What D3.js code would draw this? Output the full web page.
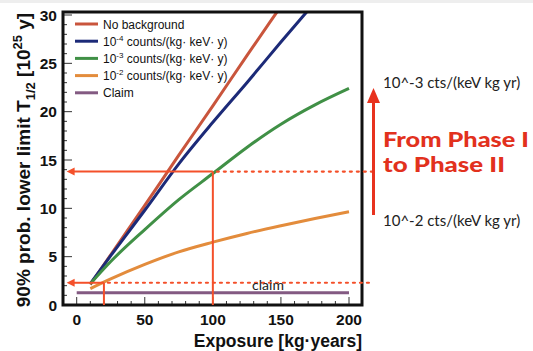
<!DOCTYPE html>
<html>
<head>
<meta charset="utf-8">
<script src="https://cdn.jsdelivr.net/npm/d3@7"></script>
<style>
  body { margin: 0; background: #fff; }
  svg { display: block; }
</style>
</head>
<body>
<div id="chart"></div>
<script>
// values (exposure in kg·years, T1/2 limit in 1e25 y)
const exposure = [10, 25, 50, 75, 100, 125, 150, 175, 200]
const noBackground = [2.1, 5.2, 10.3, 15.5, 20.6, 25.8, 30.9, 36.0, 41.2]
const bkg1e4 = [2.2, 5.1, 9.8, 14.6, 18.9, 23.0, 27.2, 31.3, 35.4]
const bkg1e3 = [2.2, 4.5, 7.8, 10.9, 13.6, 16.3, 18.7, 20.7, 22.4]
const bkg1e2 = [1.7, 2.7, 4.2, 5.5, 6.5, 7.4, 8.2, 8.95, 9.65]
const claimExposure = [0, 200]
const claimValue = 1.27
const xTicks = [0, 50, 100, 150, 200]
const yTicks = [0, 5, 10, 15, 20, 25, 30]
// phase markers: level reached and exposure needed
const phaseLevel = [13.8, 2.3]
const phaseExposure = [100, 20]

const width = 533, height = 351
const frame = {left: 63, right: 362, top: 12, bottom: 305}

const svg = d3.select("#chart").append("svg")
    .attr("width", width).attr("height", height)

svg.append("rect").attr("width", width).attr("height", 3).attr("fill", "#eeeeee")

const x = d3.scaleLinear().domain([0, 200]).range([76.7, 349])
const y = d3.scaleLinear().domain([0, 30]).range([305, 15])

svg.append("clipPath").attr("id", "plotclip")
  .append("rect")
    .attr("x", frame.left).attr("y", frame.top)
    .attr("width", frame.right - frame.left).attr("height", frame.bottom - frame.top)

// minor + major ticks, drawn inwards
const tickG = svg.append("g").attr("stroke", "#333").attr("stroke-width", 1)
d3.range(0, 31, 1).forEach(v => {
    const len = v % 5 === 0 ? 9 : 4
    tickG.append("line")
        .attr("x1", frame.left).attr("x2", frame.left + len)
        .attr("y1", y(v)).attr("y2", y(v))
})
d3.range(-10, 211, 10).forEach(v => {
    if (x(v) <= frame.left + 1 || x(v) >= frame.right - 1) return
    const len = v % 50 === 0 ? 8 : 4
    tickG.append("line")
        .attr("x1", x(v)).attr("x2", x(v))
        .attr("y1", frame.bottom).attr("y2", frame.bottom - len)
})

svg.append("g").selectAll("text")
    .data(yTicks).enter().append("text")
    .attr("x", 57).attr("y", d => y(d)).attr("dy", "0.36em")
    .attr("text-anchor", "end")
    .style("font", "bold 15.5px 'Liberation Sans', Arial, sans-serif")
    .attr("fill", "#111")
    .text(d => d)

svg.append("g").selectAll("text")
    .data(xTicks).enter().append("text")
    .attr("x", d => x(d)).attr("y", 325)
    .attr("text-anchor", "middle")
    .style("font", "bold 15.5px 'Liberation Sans', Arial, sans-serif")
    .attr("fill", "#111")
    .text(d => d)

// axis titles
svg.append("text")
    .attr("x", 362).attr("y", 347)
    .attr("text-anchor", "end")
    .style("font", "bold 17.5px 'Liberation Sans', Arial, sans-serif")
    .attr("fill", "#111")
    .text("Exposure [kg·years]")

const yTitle = svg.append("text")
    .attr("transform", "translate(30,160) rotate(-90)")
    .attr("text-anchor", "middle")
    .style("font", "bold 19px 'Liberation Sans', Arial, sans-serif")
    .attr("fill", "#111")
yTitle.append("tspan").text("90% prob. lower limit T")
yTitle.append("tspan").attr("dy", 5).style("font-size", "13px").text("1/2")
yTitle.append("tspan").attr("dy", -5).text(" [10")
yTitle.append("tspan").attr("dy", -8).style("font-size", "13px").text("25")
yTitle.append("tspan").attr("dy", 8).text(" y]")

// curves
const series = [
    {name: "No background", values: noBackground, color: "#c9553c"},
    {name: "-4", values: bkg1e4, color: "#1c2a78"},
    {name: "-3", values: bkg1e3, color: "#409046"},
    {name: "-2", values: bkg1e2, color: "#e38c3c"}
]

const line = d3.line()
    .x(d => x(d[0]))
    .y(d => y(d[1]))
    .curve(d3.curveMonotoneX)

const plot = svg.append("g").attr("clip-path", "url(#plotclip)")

plot.append("path")
    .datum(claimExposure.map(e => [e, claimValue]))
    .attr("fill", "none").attr("stroke", "#835a82").attr("stroke-width", 3)
    .attr("d", line)

series.forEach(s => {
    plot.append("path")
        .datum(exposure.map((e, i) => [e, s.values[i]]))
        .attr("fill", "none")
        .attr("stroke", s.color)
        .attr("stroke-width", 3)
        .attr("d", line)
})

// legend
const legendItems = [
    {label: ["No background"], color: "#c9553c"},
    {label: ["10", "-4", " counts/(kg· keV· y)"], color: "#1c2a78"},
    {label: ["10", "-3", " counts/(kg· keV· y)"], color: "#409046"},
    {label: ["10", "-2", " counts/(kg· keV· y)"], color: "#e38c3c"},
    {label: ["Claim"], color: "#835a82"}
]
const legend = svg.append("g")
legendItems.forEach((d, i) => {
    const ly = 24 + i * 17.2
    legend.append("line")
        .attr("x1", 75).attr("x2", 98).attr("y1", ly).attr("y2", ly)
        .attr("stroke", d.color).attr("stroke-width", 3)
    const t = legend.append("text")
        .attr("x", 103).attr("y", ly + 4.5)
        .style("font", "12px 'Liberation Sans', Arial, sans-serif")
        .attr("fill", "#111")
    t.append("tspan").text(d.label[0])
    if (d.label.length > 1) {
        t.append("tspan").attr("dy", -5).style("font-size", "8px").text(d.label[1])
        t.append("tspan").attr("dy", 5).text(d.label[2])
    }
})

// frame
svg.append("rect")
    .attr("x", frame.left).attr("y", frame.top)
    .attr("width", frame.right - frame.left).attr("height", frame.bottom - frame.top)
    .attr("fill", "none").attr("stroke", "#111").attr("stroke-width", 3)

// phase annotation lines
const annot = "#f4502a"
const tipX = -7.4
phaseLevel.forEach((lvl, i) => {
    const py = y(lvl), px = x(phaseExposure[i])
    svg.append("line")
        .attr("x1", x(tipX) + 6).attr("x2", px).attr("y1", py).attr("y2", py)
        .attr("stroke", annot).attr("stroke-width", 2)
    svg.append("path")
        .attr("d", `M${x(tipX)},${py} l8,-4 l0,8 z`)
        .attr("fill", annot)
    svg.append("line")
        .attr("x1", px).attr("x2", px).attr("y1", py).attr("y2", frame.bottom)
        .attr("stroke", annot).attr("stroke-width", 2)
    svg.append("line")
        .attr("x1", px + 4).attr("x2", 372).attr("y1", py).attr("y2", py)
        .attr("stroke", annot).attr("stroke-width", 2.2)
        .attr("stroke-dasharray", "2,5").attr("stroke-linecap", "round")
})

svg.append("text")
    .attr("x", 268).attr("y", 290)
    .attr("text-anchor", "middle")
    .style("font", "14px Lato, 'Open Sans', sans-serif")
    .attr("fill", "#222")
    .text("claim")

// right-hand side annotation
svg.append("line")
    .attr("x1", 373.5).attr("x2", 373.5).attr("y1", 215).attr("y2", 100)
    .attr("stroke", "#e8321e").attr("stroke-width", 3)
svg.append("path")
    .attr("d", "M373.5,88 l-6.5,15 l13,0 z")
    .attr("fill", "#e8321e")

svg.append("text")
    .attr("x", 383).attr("y", 88)
    .style("font", "15px Lato, 'Open Sans', sans-serif")
    .attr("fill", "#222")
    .text("10^-3 cts/(keV kg yr)")
svg.append("text")
    .attr("x", 383).attr("y", 226)
    .style("font", "15px Lato, 'Open Sans', sans-serif")
    .attr("fill", "#222")
    .text("10^-2 cts/(keV kg yr)")

svg.append("text")
    .attr("x", 383).attr("y", 147)
    .attr("textLength", 146).attr("lengthAdjust", "spacingAndGlyphs")
    .style("font", "900 21px Lato, 'Open Sans', sans-serif")
    .attr("fill", "#e2311d")
    .text("From Phase I")
svg.append("text")
    .attr("x", 383).attr("y", 172)
    .attr("textLength", 122).attr("lengthAdjust", "spacingAndGlyphs")
    .style("font", "900 21px Lato, 'Open Sans', sans-serif")
    .attr("fill", "#e2311d")
    .text("to Phase II")
</script>
</body>
</html>
